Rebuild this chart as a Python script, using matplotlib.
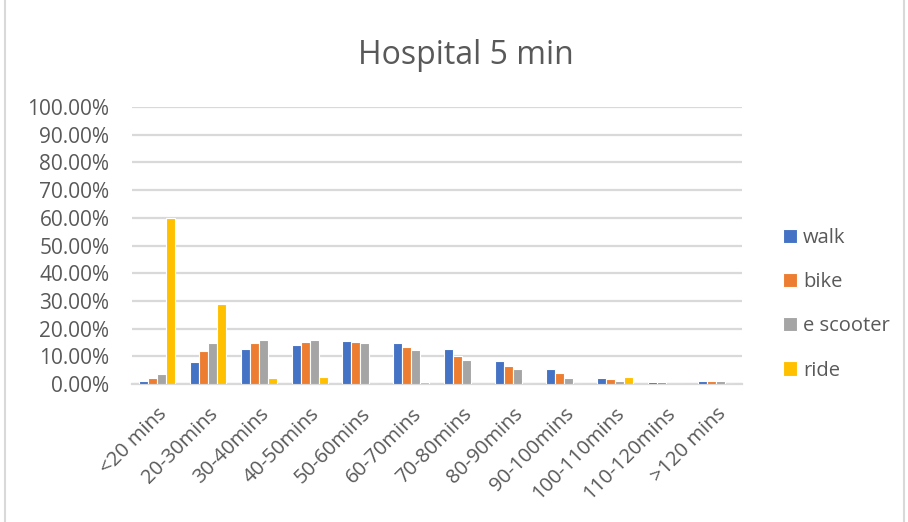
import numpy as np
import matplotlib
matplotlib.use("Agg")
import matplotlib.pyplot as plt
from matplotlib.ticker import PercentFormatter

categories = ["<20 mins", "20-30mins", "30-40mins", "40-50mins", "50-60mins",
              "60-70mins", "70-80mins", "80-90mins", "90-100mins",
              "100-110mins", "110-120mins", ">120 mins"]

walk = [1.1, 8.1, 12.8, 14.2, 15.6, 14.7, 12.8, 8.2, 5.4, 2.2, 0.8, 1.2]
bike = [2.2, 11.9, 14.7, 15.2, 15.2, 13.4, 10.0, 6.7, 4.1, 1.7, 0.8, 1.2]
e_scooter = [3.6, 15.0, 16.0, 16.0, 14.7, 12.4, 8.7, 5.4, 2.2, 1.2, 0.0, 1.2]
ride = [60.0, 29.0, 2.2, 2.6, 0.0, 0.8, 0.0, 0.0, 0.0, 2.7, 0.0, 0.0]

series = [("walk", walk, "#4472C4"),
          ("bike", bike, "#ED7D31"),
          ("e scooter", e_scooter, "#A5A5A5"),
          ("ride", ride, "#FFC000")]

plt.rcParams["font.family"] = ["Open Sans", "DejaVu Sans"]
text_color = "#595959"
grid_color = "#D9D9D9"

fig = plt.figure(figsize=(9.08, 5.22), dpi=100)
ax = fig.add_axes([0.145, 0.264, 0.672, 0.531])

x = np.arange(len(categories))
step = 0.177
for i, (name, vals, color) in enumerate(series):
    ax.bar(x + (i - 1.5) * step, vals, width=step, color=color,
           edgecolor="white", linewidth=0.8, label=name, zorder=3)

ax.set_xlim(-0.5, len(categories) - 0.5)
ax.set_ylim(0, 100)
ax.set_yticks(np.arange(0, 101, 10))
ax.yaxis.set_major_formatter(PercentFormatter(decimals=2))
ax.grid(axis="y", color=grid_color, linewidth=1.6, zorder=0)

for side in ["top", "right", "left"]:
    ax.spines[side].set_visible(False)
ax.spines["bottom"].set_color(grid_color)
ax.spines["bottom"].set_linewidth(1.6)

ax.set_xticks(x)
ax.set_xticklabels(categories, rotation=45, ha="right", rotation_mode="anchor")
ax.tick_params(axis="x", length=0, pad=14, labelsize=14.5, labelcolor=text_color)
ax.tick_params(axis="y", length=0, pad=16, labelsize=15, labelcolor=text_color)

fig.suptitle("Hospital 5 min", x=0.513, y=0.925, fontsize=23, color=text_color)

leg = ax.legend(loc="center left", bbox_to_anchor=(0.842, 0.417),
                bbox_transform=fig.transFigure, frameon=False,
                fontsize=14.5, labelspacing=1.2, handlelength=0.7,
                handleheight=0.7, handletextpad=0.3)
for t in leg.get_texts():
    t.set_color(text_color)

# light chart border on the sides
fig.add_artist(plt.Line2D([0.0055, 0.0055], [0, 1], color=grid_color,
                          linewidth=1.5, transform=fig.transFigure))
fig.add_artist(plt.Line2D([0.9955, 0.9955], [0, 1], color=grid_color,
                          linewidth=1.5, transform=fig.transFigure))

fig.savefig("out.png", dpi=100)
